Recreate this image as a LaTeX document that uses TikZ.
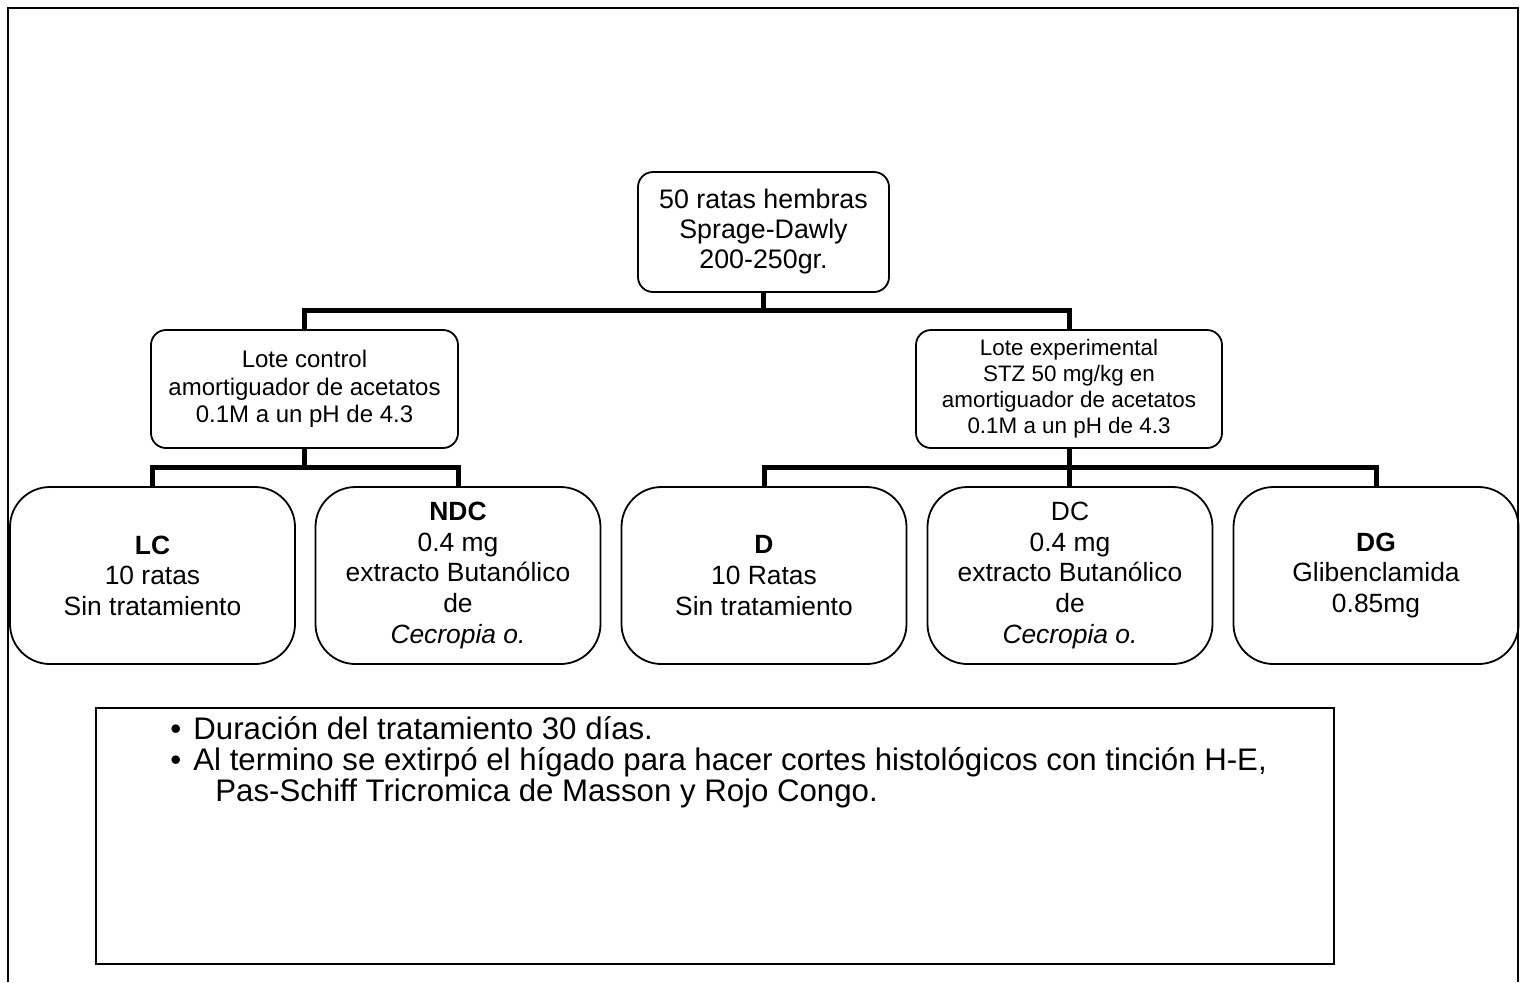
\documentclass[tikz,border=0pt]{standalone}
\usepackage{fontspec}
\setmainfont{Liberation Sans}
\begin{document}
\begin{tikzpicture}[x=0.5pt,y=-0.5pt,
    box/.style={draw,line width=0.9pt,rounded corners=7.5pt,align=center,inner sep=0pt},
    groupbox/.style={box,rounded corners=20pt,minimum width=142.5pt,minimum height=88.5pt,font=\fontsize{13.2}{15.3}\selectfont},
    link/.style={line width=2.5pt},
    note/.style={anchor=base west,inner sep=0pt,font=\fontsize{15.6}{15.5}\selectfont}]
  \useasboundingbox (0,0) rectangle (1522,982);
  \draw[line width=1pt] (8,982) -- (8,8) -- (1518,8) -- (1518,982);
  \node[box,minimum width=125.5pt,minimum height=60pt,font=\fontsize{13.4}{15}\selectfont] (top) at (763.5,232) {50 ratas hembras\\Sprage-Dawly\\200-250gr.};
  \node[box,minimum width=153.5pt,minimum height=59pt,font=\fontsize{12}{13.75}\selectfont] (ctl) at (304.5,389) {Lote control\\amortiguador de acetatos\\0.1M a un pH de 4.3};
  \node[box,minimum width=153pt,minimum height=59pt,font=\fontsize{11.2}{13}\selectfont] (exp) at (1069,389) {Lote experimental\\STZ 50 mg/kg en\\amortiguador de acetatos\\0.1M a un pH de 4.3};
  \node[groupbox] (lc) at (152.5,575.5) {\textbf{LC}\\10 ratas\\Sin tratamiento};
  \node[groupbox] (ndc) at (458,575.5) {\textbf{NDC}\\0.4 mg\\extracto Butanólico\\de\\\textit{Cecropia o.}};
  \node[groupbox] (d) at (764,575.5) {\textbf{D}\\10 Ratas\\Sin tratamiento};
  \node[groupbox] (dc) at (1070,575.5) {DC\\0.4 mg\\extracto Butanólico\\de\\\textit{Cecropia o.}};
  \node[groupbox] (dg) at (1376,575.5) {\textbf{DG}\\Glibenclamida\\0.85mg};
  \draw[link] (top.south) -- ++(0,18) -| (ctl.north);
  \draw[link] (top.south) -- ++(0,18) -| (exp.north);
  \draw[link] (ctl.south) -- ++(0,19) -| (lc.north);
  \draw[link] (ctl.south) -- ++(0,19) -| (ndc.north);
  \draw[link] (exp.south) -- ++(0,19) -| (d.north);
  \draw[link] (exp.south) -- ++(0,19) -| (dg.north);
  \draw[link] (exp.south) -- (exp.south |- dc.north);
  \node[draw,line width=1pt,minimum width=619pt,minimum height=128pt,inner sep=0pt] (notes) at (715,836) {};
  \node[note] (n1) at (170,739) {\makebox[11.5pt][l]{\textbullet}Duración del tratamiento 30 días.};
  \node[note] (n2) at (170,770) {\makebox[11.5pt][l]{\textbullet}Al termino se extirpó el hígado para hacer cortes histológicos con tinción H-E,};
  \node[note] (n3) at (215,801) {Pas-Schiff Tricromica de Masson y Rojo Congo.};
\end{tikzpicture}
\end{document}
